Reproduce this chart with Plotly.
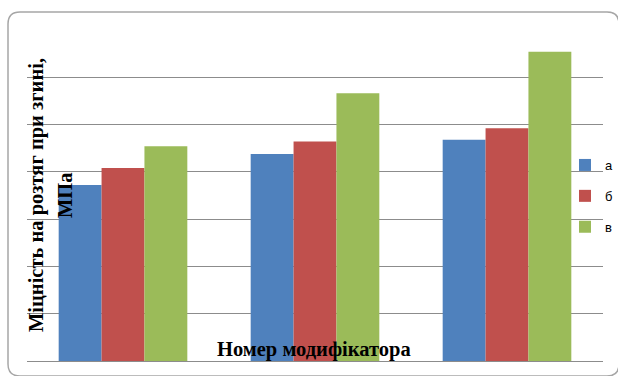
import plotly.graph_objects as go

# Three modifiers, three sample series (а, б, в), strength in MPa
categories = ["1", "2", "3"]
series_names = ["а", "б", "в"]
values_a = [18.6, 21.9, 23.4]
values_b = [20.4, 23.2, 24.6]
values_v = [22.7, 28.3, 32.7]
colors = ["#4F81BD", "#C0504D", "#9BBB59"]

W, H = 618, 376
L, R, T, B = 27, 15, 30, 15
pw, ph = W - L - R, H - T - B


def px_x(x):
    return (x - L) / pw


def px_y(y):
    return (H - B - y) / ph


fig = go.Figure()
for name, vals, col in zip(series_names, [values_a, values_b, values_v], colors):
    fig.add_trace(go.Bar(x=categories, y=vals, name=name, marker_color=col,
                         marker_line_width=0, legendgroup=name))

# rounded chart frame
x0, y0, x1, y1, r = 8, 12, 619, 376, 12
path = (
    f"M {px_x(x0)},{px_y(y1 - r)} L {px_x(x0)},{px_y(y0 + r)} "
    f"Q {px_x(x0)},{px_y(y0)} {px_x(x0 + r)},{px_y(y0)} "
    f"L {px_x(x1 - r)},{px_y(y0)} Q {px_x(x1)},{px_y(y0)} {px_x(x1)},{px_y(y0 + r)} "
    f"L {px_x(x1)},{px_y(y1 - r)} Q {px_x(x1)},{px_y(y1)} {px_x(x1 - r)},{px_y(y1)} "
    f"L {px_x(x0 + r)},{px_y(y1)} Q {px_x(x0)},{px_y(y1)} {px_x(x0)},{px_y(y1 - r)} Z"
)
fig.add_shape(type="path", path=path, xref="paper", yref="paper",
              line=dict(color="#A6A6A6", width=1.5), layer="below")

title_font = dict(family="Liberation Serif", size=20.5, color="#000000")
fig.add_annotation(text="<b>Міцність на розтяг при згині,</b>", textangle=-90,
                   xref="paper", yref="paper", x=px_x(36), y=px_y(195),
                   xanchor="center", yanchor="middle", showarrow=False, font=title_font)
fig.add_annotation(text="<b>МПа</b>", textangle=-90,
                   xref="paper", yref="paper", x=px_x(65), y=px_y(195),
                   xanchor="center", yanchor="middle", showarrow=False, font=title_font)
fig.add_annotation(text="<b>Номер модифікатора</b>",
                   xref="paper", yref="paper", x=px_x(314), y=px_y(349),
                   xanchor="center", yanchor="middle", showarrow=False, font=title_font)

fig.update_layout(
    width=W, height=H,
    margin=dict(l=L, r=R, t=T, b=B, autoexpand=False),
    paper_bgcolor="white", plot_bgcolor="white",
    barmode="group", bargap=0.33, bargroupgap=0,
    showlegend=True,
    legend=dict(x=px_x(565), y=px_y(150), xanchor="left", yanchor="top",
                font=dict(family="Liberation Sans", size=13, color="#000000"),
                tracegroupgap=11, itemwidth=30, bgcolor="rgba(0,0,0,0)"),
    xaxis=dict(type="category", range=[-0.5, 2.5], showticklabels=False,
               showgrid=False, showline=False, ticks=""),
    yaxis=dict(range=[0, 35], dtick=5, showticklabels=False, ticks="",
               showgrid=True, gridcolor="#8C8C8C", gridwidth=1,
               zeroline=True, zerolinecolor="#8C8C8C", zerolinewidth=1),
)

fig.write_html("out.html")
